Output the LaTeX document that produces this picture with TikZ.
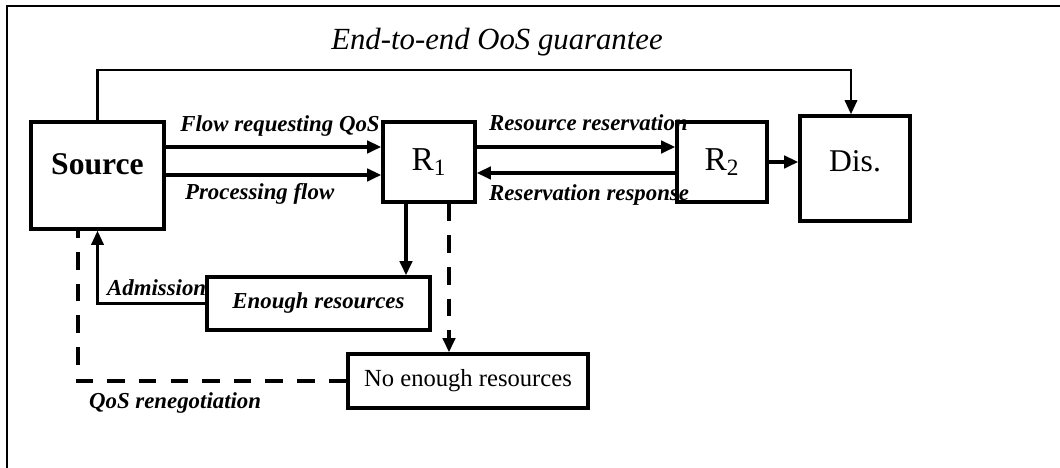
\documentclass[tikz,border=0pt]{standalone}
\usepackage{fontspec}
\setmainfont{Liberation Serif}
\usetikzlibrary{arrows.meta}

\tikzset{
  blk/.style={draw, line width=2pt, inner sep=0pt, align=center},
  flow/.style={line width=2pt, -{Triangle[length=8pt,width=7pt]}},
  thinflow/.style={line width=1.4pt, -{Triangle[length=8pt,width=7pt]}},
  dsh/.style={line width=2pt, dash pattern=on 10pt off 8pt},
  lbl/.style={font=\fontsize{13}{15}\selectfont\bfseries\itshape, inner sep=1pt},
}

\begin{document}
\begin{tikzpicture}[x=2cm,y=2cm]
\useasboundingbox (0,0) rectangle (10.6,4.68);

% Frame (only top and left edges show)
\draw[line width=1.2pt] (0.07,0) -- (0.07,4.62) -- (10.6,4.62);

% Boxes
\node[blk, minimum width=2.66cm, minimum height=2.14cm, text depth=0.45cm, font=\fontsize{18}{20}\selectfont\bfseries] (src) at (0.975,2.925) {Source};
\node[blk, minimum width=1.84cm, minimum height=1.6cm, font=\fontsize{19}{21}\selectfont] (r1) at (4.29,3.06) {R\textsubscript{1}};
\node[blk, minimum width=1.8cm, minimum height=1.6cm, font=\fontsize{19}{21}\selectfont] (r2) at (7.22,3.06) {R\textsubscript{2}};
\node[blk, minimum width=2.2cm, minimum height=2.1cm, text depth=0.3cm, font=\fontsize{18}{20}\selectfont] (dis) at (8.55,2.995) {Dis.};
\node[blk, minimum width=4.46cm, minimum height=1.06cm, font=\fontsize{13}{15}\selectfont\bfseries\itshape] (enough) at (3.185,1.645) {Enough resources};
\node[blk, minimum width=4.8cm, minimum height=1.08cm, font=\fontsize{14}{16}\selectfont] (noen) at (4.68,0.87) {No enough resources};

% Flows between source and routers
\coordinate (a1) at ([yshift=0.3cm]r1.west);
\coordinate (a2) at ([yshift=-0.26cm]r1.west);
\draw[flow] (src.east |- a1) -- (a1);
\draw[flow] (src.east |- a2) -- (a2);
\draw[flow] ([yshift=0.3cm]r1.east) -- ([yshift=0.3cm]r2.west);
\draw[flow] ([yshift=-0.22cm]r2.west) -- ([yshift=-0.22cm]r1.east);
\draw[flow] (r2.east) -- (r2.east -| dis.west);

% End-to-end path
\draw[thinflow] (src.north) -- ++(0,0.505) -| ([xshift=-0.08cm]dis.north);

% Decision branches
\draw[flow] ([xshift=-0.46cm]r1.south) -- ([xshift=-0.46cm]r1.south |- enough.north);
\draw[dsh, -{Triangle[length=8pt,width=7pt]}] ([xshift=0.4cm]r1.south) -- ([xshift=0.4cm]r1.south |- noen.north);
\draw[thinflow] (enough.west) -| (src.south);
\draw[dsh] (noen.west) -| ([xshift=-0.39cm]src.south);

% Labels
\node[font=\fontsize{17.5}{20}\selectfont\itshape] (ttl) at (4.97,4.26) {End-to-end OoS guarantee};
\node[lbl] (l1) at (2.8,3.42) {Flow requesting QoS};
\node[lbl, anchor=west] (l2) at (1.83,2.74) {Processing flow};
\node[lbl, anchor=west] (l3) at (4.87,3.45) {Resource reservation};
\node[lbl, anchor=west] (l4) at (4.87,2.73) {Reservation response};
\node[lbl, anchor=west] (l5) at (1.05,1.80) {Admission};
\node[lbl, anchor=west] (l6) at (0.87,0.65) {QoS renegotiation};

\end{tikzpicture}
\end{document}
